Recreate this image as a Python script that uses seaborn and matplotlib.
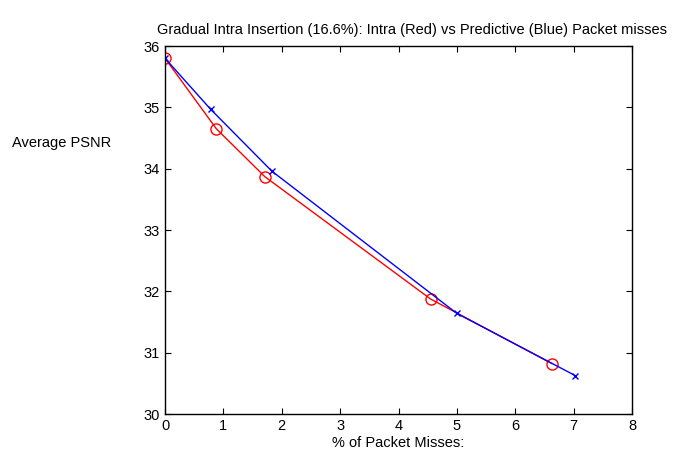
import matplotlib
matplotlib.use("Agg")
import matplotlib.pyplot as plt
import seaborn as sns
import pandas as pd

intra_x = [0.0, 0.88, 1.71, 4.55, 6.63]
intra_y = [35.8, 34.65, 33.87, 31.875, 30.82]
pred_x = [0.0, 0.78, 1.83, 5.0, 7.03]
pred_y = [35.8, 34.97, 33.96, 31.64, 30.625]

title = "Gradual Intra Insertion (16.6%): Intra (Red) vs Predictive (Blue) Packet misses"
xlabel = "% of Packet Misses:"
ylabel = "Average PSNR"

sns.set_style("ticks")
plt.rcParams['font.family'] = ['Liberation Sans', 'DejaVu Sans']
plt.rcParams['font.size'] = 10.5
plt.rcParams['text.color'] = 'black'
plt.rcParams['axes.labelcolor'] = 'black'

fig = plt.figure(figsize=(6.8, 4.53), dpi=100)
ax = fig.add_axes([165/680, 1-414/453, (632-165)/680, (414-46)/453])

df_i = pd.DataFrame({"x": intra_x, "y": intra_y})
df_p = pd.DataFrame({"x": pred_x, "y": pred_y})

sns.lineplot(data=df_i, x="x", y="y", ax=ax, color="red", linewidth=1,
             marker="o", markersize=8, markerfacecolor="none",
             markeredgecolor="red", markeredgewidth=1, sort=False, estimator=None)
sns.lineplot(data=df_p, x="x", y="y", ax=ax, color="blue", linewidth=1,
             marker="x", markersize=5, markeredgecolor="blue",
             markeredgewidth=1, sort=False, estimator=None)

ax.set_xlim(0, 8)
ax.set_ylim(30, 36)
ax.set_xticks(range(0, 9))
ax.set_yticks(range(30, 37))
ax.tick_params(direction="in", top=True, right=True, length=4, width=0.8,
               labelsize=10.5, colors="black")
for s in ax.spines.values():
    s.set_visible(True)
    s.set_linewidth(1)
    s.set_color("black")

ax.set_xlabel(xlabel, fontsize=10.5, labelpad=2, color="black")
ax.set_ylabel("")
fig.text(12/680, 1-143/453, ylabel, fontsize=10.5, ha="left", va="center", color="black")
fig.text(412/680, 1-30/453, title, fontsize=10.5, ha="center", va="center", color="black")

fig.savefig("out.png", dpi=100, facecolor="white")
